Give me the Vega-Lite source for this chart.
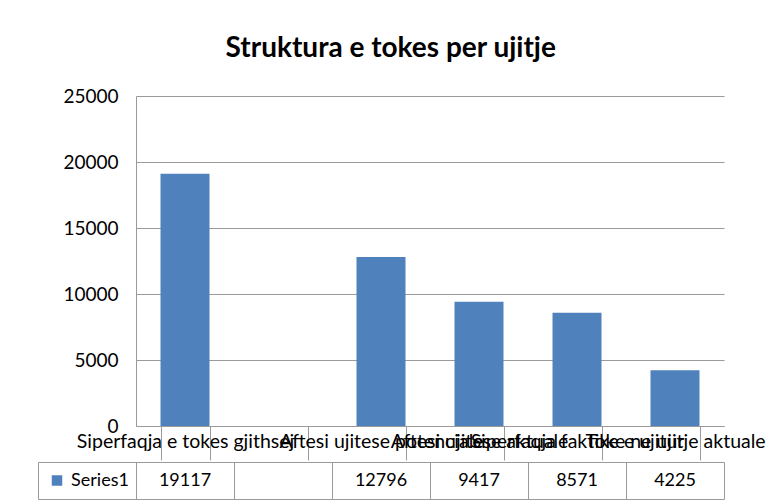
{
  "$schema": "https://vega.github.io/schema/vega-lite/v6.json",
  "padding": {"left": 37, "top": 35, "right": 5, "bottom": 5},
  "background": "white",
  "title": {"text": "Struktura e tokes per ujitje", "font": "Lato", "fontSize": 28, "fontWeight": "bold", "color": "#000000", "anchor": "middle", "offset": 24, "dx": -39},
  "datasets": {
    "main": [
      {"cat": "Siperfaqja e tokes gjithsej", "value": 19117},
      {"cat": " ", "value": null},
      {"cat": "Aftesi ujitese potenciale", "value": 12796},
      {"cat": "Aftesi ujitese aktuale", "value": 9417},
      {"cat": "Siperfaqja faktike e ujitur", "value": 8571},
      {"cat": "Toke ne ujitje aktuale", "value": 4225}
    ],
    "header": [{"cat": "Series1", "label": "Series1"}]
  },
  "spacing": 0,
  "config": {
    "font": "Lato",
    "view": {"stroke": null},
    "axis": {"labelFont": "Lato", "labelColor": "#000000", "gridColor": "#9a9a9a", "domainColor": "#9a9a9a", "tickColor": "#9a9a9a"}
  },
  "vconcat": [
    {
      "width": 588,
      "height": 330,
      "data": {"name": "main"},
      "mark": {"type": "bar", "color": "#4f81bd"},
      "encoding": {
        "x": {
          "field": "cat", "type": "nominal", "sort": null,
          "scale": {"domain": ["Siperfaqja e tokes gjithsej", " ", "Aftesi ujitese potenciale", "Aftesi ujitese aktuale", "Siperfaqja faktike e ujitur", "Toke ne ujitje aktuale"], "paddingInner": 0.5, "paddingOuter": 0.25},
          "axis": {"title": null, "labelAngle": 0, "labelOverlap": false, "labelLimit": 0, "labelFontSize": 19.5, "labelFlush": false, "tickBand": "extent", "tickSize": 34, "labelPadding": -28, "grid": false}
        },
        "y": {
          "field": "value", "type": "quantitative",
          "scale": {"domain": [0, 25000]},
          "axis": {"title": null, "values": [0, 5000, 10000, 15000, 20000, 25000], "format": "d", "labelFontSize": 19, "ticks": false, "labelPadding": 18, "grid": true, "domain": true}
        }
      }
    },
    {
      "width": 588,
      "height": 37,
      "layer": [
        {
          "data": {"name": "main"},
          "transform": [{"filter": "datum.value != null"}],
          "mark": {"type": "text", "fontSize": 18, "color": "#000000", "font": "Lato"},
          "encoding": {
            "x": {
              "field": "cat", "type": "nominal", "sort": null,
              "scale": {"domain": ["Series1", "Siperfaqja e tokes gjithsej", " ", "Aftesi ujitese potenciale", "Aftesi ujitese aktuale", "Siperfaqja faktike e ujitur", "Toke ne ujitje aktuale"], "range": [-98, 588], "paddingInner": 0, "paddingOuter": 0},
              "axis": {"title": null, "labels": false, "ticks": false, "domain": false, "grid": true, "tickBand": "extent"}
            },
            "y": {"datum": "Series1", "type": "nominal", "axis": {"title": null, "labels": false, "tickBand": "extent", "tickSize": 98, "grid": true, "domain": false}},
            "text": {"field": "value", "type": "quantitative", "format": "d"}
          }
        },
        {
          "data": {"name": "header"},
          "mark": {"type": "text", "fontSize": 18, "color": "#000000", "font": "Lato", "dx": 13},
          "encoding": {
            "x": {"field": "cat", "type": "nominal"},
            "y": {"datum": "Series1", "type": "nominal"},
            "text": {"field": "label", "type": "nominal"}
          }
        },
        {
          "data": {"name": "header"},
          "mark": {"type": "point", "shape": "square", "filled": true, "color": "#4f81bd", "opacity": 1, "size": 110, "xOffset": -30},
          "encoding": {
            "x": {"field": "cat", "type": "nominal"},
            "y": {"datum": "Series1", "type": "nominal"}
          }
        }
      ]
    }
  ]
}
